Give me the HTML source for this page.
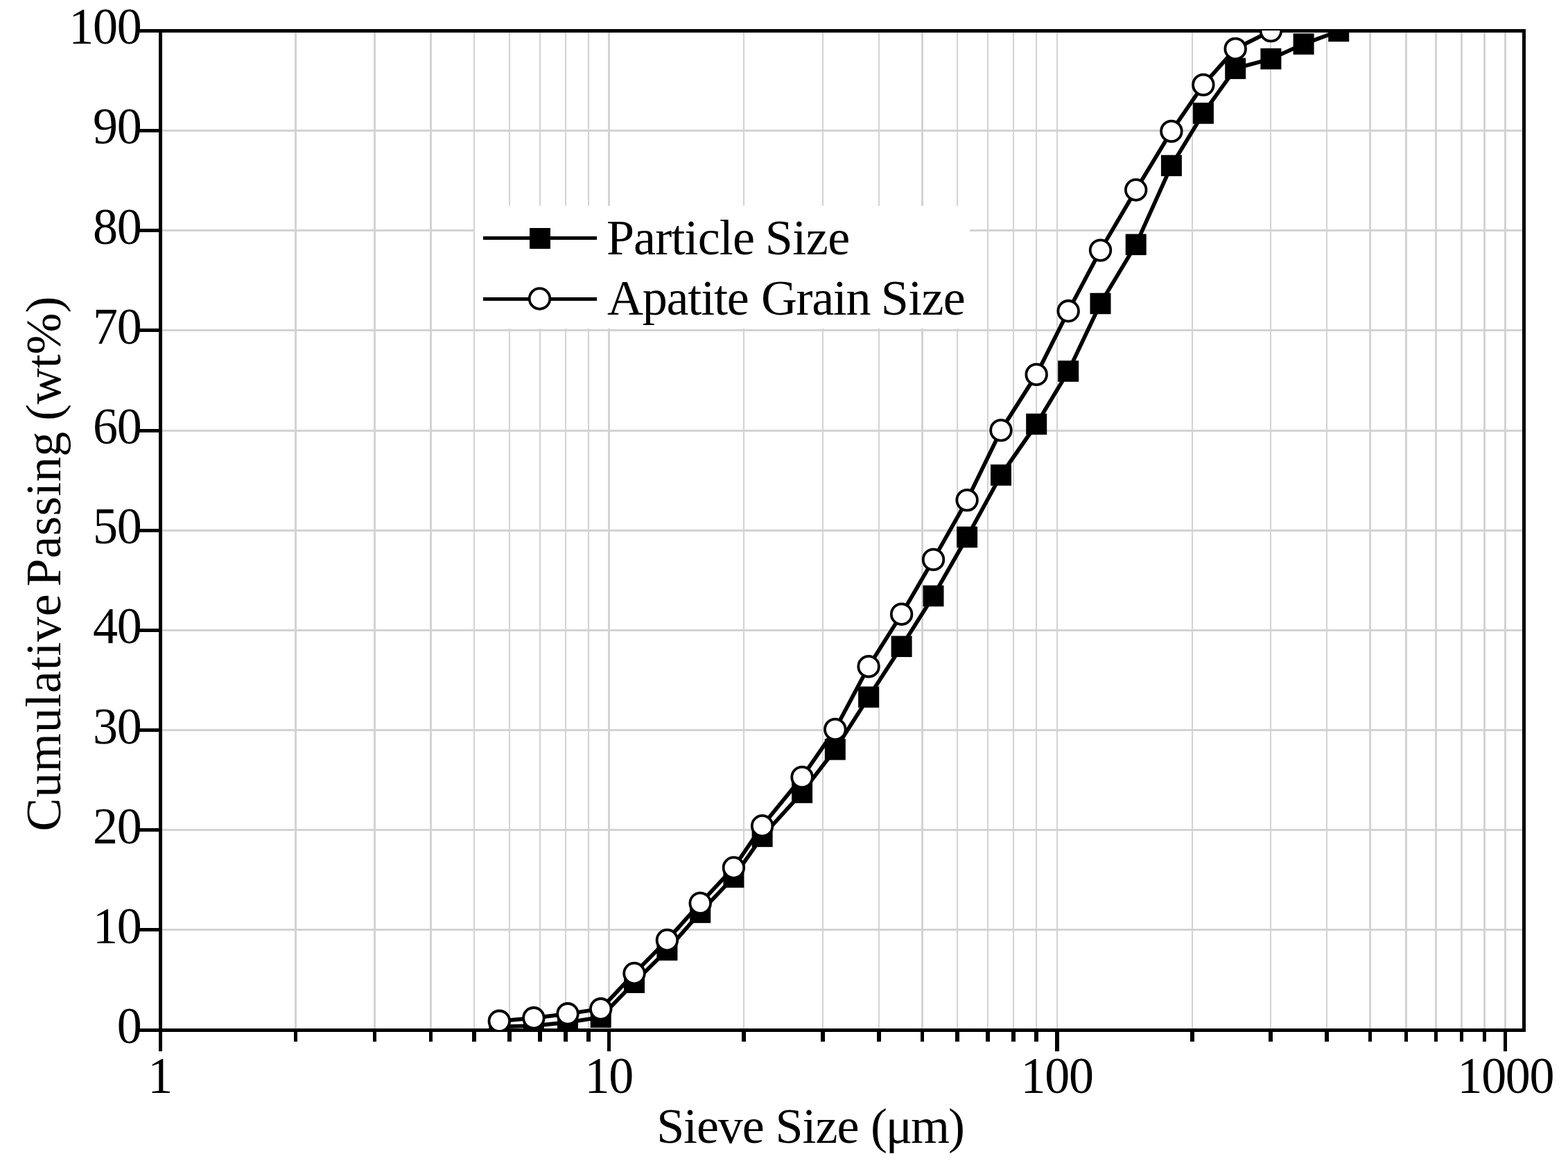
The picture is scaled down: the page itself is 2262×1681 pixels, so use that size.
<!DOCTYPE html>
<html lang="en"><head><meta charset="utf-8"><title>Cumulative Passing vs Sieve Size</title>
<style>html,body{margin:0;padding:0;background:#fff}svg{display:block}text{font-family:"Liberation Serif","DejaVu Serif",serif;fill:#000}</style></head><body>
<svg width="2262" height="1681" viewBox="0 0 2262 1681">
<rect width="2262" height="1681" fill="#fff"/>
<g fill="#d3d3d3" shape-rendering="crispEdges">
<rect x="425" y="47" width="3" height="1437"/>
<rect x="539" y="47" width="3" height="1437"/>
<rect x="620" y="47" width="3" height="1437"/>
<rect x="683" y="47" width="2" height="1437"/>
<rect x="734" y="47" width="2" height="1437"/>
<rect x="778" y="47" width="2" height="1437"/>
<rect x="815" y="47" width="2" height="1437"/>
<rect x="848" y="47" width="2" height="1437"/>
<rect x="877" y="47" width="3" height="1437"/>
<rect x="1072" y="47" width="2" height="1437"/>
<rect x="1186" y="47" width="2" height="1437"/>
<rect x="1267" y="47" width="2" height="1437"/>
<rect x="1329" y="47" width="3" height="1437"/>
<rect x="1380" y="47" width="2" height="1437"/>
<rect x="1424" y="47" width="2" height="1437"/>
<rect x="1461" y="47" width="2" height="1437"/>
<rect x="1494" y="47" width="2" height="1437"/>
<rect x="1524" y="47" width="2" height="1437"/>
<rect x="1719" y="47" width="2" height="1437"/>
<rect x="1832" y="47" width="2" height="1437"/>
<rect x="1913" y="47" width="2" height="1437"/>
<rect x="1975" y="47" width="3" height="1437"/>
<rect x="2027" y="47" width="3" height="1437"/>
<rect x="2070" y="47" width="3" height="1437"/>
<rect x="2107" y="47" width="3" height="1437"/>
<rect x="2140" y="47" width="3" height="1437"/>
<rect x="2170" y="47" width="3" height="1437"/>
<rect x="234" y="1340" width="1962" height="3"/>
<rect x="234" y="1196" width="1962" height="3"/>
<rect x="234" y="1052" width="1962" height="3"/>
<rect x="234" y="908" width="1962" height="3"/>
<rect x="234" y="764" width="1962" height="3"/>
<rect x="234" y="620" width="1962" height="3"/>
<rect x="234" y="475" width="1962" height="3"/>
<rect x="234" y="331" width="1962" height="3"/>
<rect x="234" y="187" width="1962" height="3"/>
</g>
<rect x="685" y="297" width="714" height="177" fill="#fff" shape-rendering="crispEdges"/>
<g stroke="#000" stroke-width="5" fill="none" shape-rendering="crispEdges">
<rect x="231.5" y="44.5" width="1967.0" height="1442.0"/>
<line x1="201" y1="1486.5" x2="231.5" y2="1486.5"/>
<line x1="201" y1="1341.5" x2="231.5" y2="1341.5"/>
<line x1="201" y1="1197.5" x2="231.5" y2="1197.5"/>
<line x1="201" y1="1053.5" x2="231.5" y2="1053.5"/>
<line x1="201" y1="909.5" x2="231.5" y2="909.5"/>
<line x1="201" y1="765.5" x2="231.5" y2="765.5"/>
<line x1="201" y1="621.5" x2="231.5" y2="621.5"/>
<line x1="201" y1="476.5" x2="231.5" y2="476.5"/>
<line x1="201" y1="332.5" x2="231.5" y2="332.5"/>
<line x1="201" y1="188.5" x2="231.5" y2="188.5"/>
<line x1="201" y1="44.5" x2="231.5" y2="44.5"/>
</g>
<g fill="#000" shape-rendering="crispEdges">
<rect x="229" y="1486" width="5" height="31"/>
<rect x="424" y="1486" width="5" height="17"/>
<rect x="538" y="1486" width="5" height="17"/>
<rect x="619" y="1486" width="5" height="17"/>
<rect x="681" y="1486" width="6" height="17"/>
<rect x="732" y="1486" width="6" height="17"/>
<rect x="776" y="1486" width="6" height="17"/>
<rect x="813" y="1486" width="6" height="17"/>
<rect x="846" y="1486" width="6" height="17"/>
<rect x="876" y="1486" width="5" height="31"/>
<rect x="1070" y="1486" width="6" height="17"/>
<rect x="1184" y="1486" width="6" height="17"/>
<rect x="1265" y="1486" width="6" height="17"/>
<rect x="1328" y="1486" width="5" height="17"/>
<rect x="1378" y="1486" width="6" height="17"/>
<rect x="1422" y="1486" width="6" height="17"/>
<rect x="1459" y="1486" width="6" height="17"/>
<rect x="1492" y="1486" width="6" height="17"/>
<rect x="1522" y="1486" width="6" height="31"/>
<rect x="1717" y="1486" width="6" height="17"/>
<rect x="1830" y="1486" width="6" height="17"/>
<rect x="1911" y="1486" width="6" height="17"/>
<rect x="1974" y="1486" width="5" height="17"/>
<rect x="2026" y="1486" width="5" height="17"/>
<rect x="2069" y="1486" width="5" height="17"/>
<rect x="2106" y="1486" width="5" height="17"/>
<rect x="2139" y="1486" width="5" height="17"/>
<rect x="2169" y="1486" width="5" height="31"/>
</g>
<clipPath id="c"><rect x="231.5" y="44" width="1967.0" height="1443"/></clipPath>
<g clip-path="url(#c)">
<polyline points="720.3,1481.3 769.9,1480.1 819.0,1475.1 866.7,1467.7 915.0,1417.7 962.4,1370.8 1010.2,1316.6 1058.4,1265.6 1099.6,1206.9 1157.1,1143.6 1204.8,1081.4 1253.1,1005.8 1300.6,932.8 1346.5,859.9 1395.1,775.0 1444.0,685.5 1495.2,612.0 1541.2,535.6 1587.5,438.0 1638.7,352.9 1689.9,238.9 1735.9,163.4 1782.2,98.8 1833.4,84.9 1880.6,63.5 1931.2,44.9" fill="none" stroke="#000" stroke-width="5.7" stroke-linejoin="round"/>
<rect x="705.3" y="1466.05" width="30" height="30.5" fill="#000"/>
<rect x="754.9" y="1464.85" width="30" height="30.5" fill="#000"/>
<rect x="804.0" y="1459.85" width="30" height="30.5" fill="#000"/>
<rect x="851.7" y="1452.45" width="30" height="30.5" fill="#000"/>
<rect x="900.0" y="1402.45" width="30" height="30.5" fill="#000"/>
<rect x="947.4" y="1355.55" width="30" height="30.5" fill="#000"/>
<rect x="995.2" y="1301.35" width="30" height="30.5" fill="#000"/>
<rect x="1043.4" y="1250.35" width="30" height="30.5" fill="#000"/>
<rect x="1084.6" y="1191.65" width="30" height="30.5" fill="#000"/>
<rect x="1142.1" y="1128.35" width="30" height="30.5" fill="#000"/>
<rect x="1189.8" y="1066.15" width="30" height="30.5" fill="#000"/>
<rect x="1238.1" y="990.55" width="30" height="30.5" fill="#000"/>
<rect x="1285.6" y="917.55" width="30" height="30.5" fill="#000"/>
<rect x="1331.5" y="844.65" width="30" height="30.5" fill="#000"/>
<rect x="1380.1" y="759.75" width="30" height="30.5" fill="#000"/>
<rect x="1429.0" y="670.25" width="30" height="30.5" fill="#000"/>
<rect x="1480.2" y="596.75" width="30" height="30.5" fill="#000"/>
<rect x="1526.2" y="520.35" width="30" height="30.5" fill="#000"/>
<rect x="1572.5" y="422.75" width="30" height="30.5" fill="#000"/>
<rect x="1623.7" y="337.65" width="30" height="30.5" fill="#000"/>
<rect x="1674.9" y="223.70" width="30" height="30.5" fill="#000"/>
<rect x="1720.9" y="148.20" width="30" height="30.5" fill="#000"/>
<rect x="1767.2" y="83.59" width="30" height="30.5" fill="#000"/>
<rect x="1818.4" y="69.65" width="30" height="30.5" fill="#000"/>
<rect x="1865.6" y="48.25" width="30" height="30.5" fill="#000"/>
<rect x="1916.2" y="29.65" width="30" height="30.5" fill="#000"/>
<polyline points="720.3,1473.3 769.9,1468.8 819.0,1462.8 866.7,1455.8 915.0,1404.5 962.4,1356.5 1010.2,1303.2 1058.4,1252.0 1099.6,1191.7 1157.1,1121.4 1204.8,1052.4 1253.1,961.7 1300.6,886.2 1346.5,807.4 1395.1,721.6 1444.0,620.9 1495.2,540.4 1541.2,448.8 1587.5,361.1 1638.7,274.0 1689.9,189.4 1735.9,122.4 1782.2,70.4 1833.4,44.6" fill="none" stroke="#000" stroke-width="5.7" stroke-linejoin="round"/>
<circle cx="720.3" cy="1473.3" r="14.8" fill="#fff" stroke="#000" stroke-width="3.8"/>
<circle cx="769.9" cy="1468.8" r="14.8" fill="#fff" stroke="#000" stroke-width="3.8"/>
<circle cx="819.0" cy="1462.8" r="14.8" fill="#fff" stroke="#000" stroke-width="3.8"/>
<circle cx="866.7" cy="1455.8" r="14.8" fill="#fff" stroke="#000" stroke-width="3.8"/>
<circle cx="915.0" cy="1404.5" r="14.8" fill="#fff" stroke="#000" stroke-width="3.8"/>
<circle cx="962.4" cy="1356.5" r="14.8" fill="#fff" stroke="#000" stroke-width="3.8"/>
<circle cx="1010.2" cy="1303.2" r="14.8" fill="#fff" stroke="#000" stroke-width="3.8"/>
<circle cx="1058.4" cy="1252.0" r="14.8" fill="#fff" stroke="#000" stroke-width="3.8"/>
<circle cx="1099.6" cy="1191.7" r="14.8" fill="#fff" stroke="#000" stroke-width="3.8"/>
<circle cx="1157.1" cy="1121.4" r="14.8" fill="#fff" stroke="#000" stroke-width="3.8"/>
<circle cx="1204.8" cy="1052.4" r="14.8" fill="#fff" stroke="#000" stroke-width="3.8"/>
<circle cx="1253.1" cy="961.7" r="14.8" fill="#fff" stroke="#000" stroke-width="3.8"/>
<circle cx="1300.6" cy="886.2" r="14.8" fill="#fff" stroke="#000" stroke-width="3.8"/>
<circle cx="1346.5" cy="807.4" r="14.8" fill="#fff" stroke="#000" stroke-width="3.8"/>
<circle cx="1395.1" cy="721.6" r="14.8" fill="#fff" stroke="#000" stroke-width="3.8"/>
<circle cx="1444.0" cy="620.9" r="14.8" fill="#fff" stroke="#000" stroke-width="3.8"/>
<circle cx="1495.2" cy="540.4" r="14.8" fill="#fff" stroke="#000" stroke-width="3.8"/>
<circle cx="1541.2" cy="448.8" r="14.8" fill="#fff" stroke="#000" stroke-width="3.8"/>
<circle cx="1587.5" cy="361.1" r="14.8" fill="#fff" stroke="#000" stroke-width="3.8"/>
<circle cx="1638.7" cy="274.0" r="14.8" fill="#fff" stroke="#000" stroke-width="3.8"/>
<circle cx="1689.9" cy="189.4" r="14.8" fill="#fff" stroke="#000" stroke-width="3.8"/>
<circle cx="1735.9" cy="122.4" r="14.8" fill="#fff" stroke="#000" stroke-width="3.8"/>
<circle cx="1782.2" cy="70.4" r="14.8" fill="#fff" stroke="#000" stroke-width="3.8"/>
<circle cx="1833.4" cy="44.6" r="14.8" fill="#fff" stroke="#000" stroke-width="3.8"/>
</g>
<g stroke="#000" stroke-width="5" fill="none" shape-rendering="crispEdges">
<line x1="697" y1="343.5" x2="861" y2="343.5"/>
<line x1="697" y1="431.5" x2="861" y2="431.5"/>
</g>
<rect x="764" y="329" width="30" height="30" fill="#000" shape-rendering="crispEdges"/>
<circle cx="778.5" cy="431" r="14.8" fill="#fff" stroke="#000" stroke-width="3.8"/>
<text id="l1" y="367.0" font-size="72"><tspan x="874.90" style="letter-spacing:-0.843px">Particle</tspan> <tspan x="1103.80" style="letter-spacing:-0.533px">Size</tspan></text>
<text id="l2" y="454.3" font-size="72"><tspan x="875.90" style="letter-spacing:-1.167px">Apatite</tspan> <tspan x="1097.90" style="letter-spacing:-1.325px">Grain</tspan> <tspan x="1270.80" style="letter-spacing:-0.667px">Size</tspan></text>
<text id="xt" y="1649.1" font-size="72"><tspan x="947.20" style="letter-spacing:-1.125px">Sieve</tspan> <tspan x="1118.50" style="letter-spacing:-1.033px">Size</tspan> <tspan x="1256.00" style="letter-spacing:-2.233px">(μm)</tspan></text>
<text id="yt" transform="translate(87.0,0) rotate(-90)" y="0" font-size="72"><tspan x="-1199.50" style="letter-spacing:0.700px">Cumulative</tspan> <tspan x="-846.20" style="letter-spacing:0.567px">Passing</tspan> <tspan x="-607.00" style="letter-spacing:-0.125px">(wt%)</tspan></text>
<text id="y0" transform="translate(168.74,1505.25) scale(0.973,1)" font-size="74" style="letter-spacing:-1.34px">0</text>
<text id="y10" transform="translate(134.05,1361.05) scale(0.973,1)" font-size="74" style="letter-spacing:-1.34px">10</text>
<text id="y20" transform="translate(134.05,1216.85) scale(0.973,1)" font-size="74" style="letter-spacing:-1.34px">20</text>
<text id="y30" transform="translate(134.05,1072.65) scale(0.973,1)" font-size="74" style="letter-spacing:-1.34px">30</text>
<text id="y40" transform="translate(134.05,928.45) scale(0.973,1)" font-size="74" style="letter-spacing:-1.34px">40</text>
<text id="y50" transform="translate(134.05,784.25) scale(0.973,1)" font-size="74" style="letter-spacing:-1.34px">50</text>
<text id="y60" transform="translate(134.05,640.05) scale(0.973,1)" font-size="74" style="letter-spacing:-1.34px">60</text>
<text id="y70" transform="translate(134.05,495.85) scale(0.973,1)" font-size="74" style="letter-spacing:-1.34px">70</text>
<text id="y80" transform="translate(134.05,351.65) scale(0.973,1)" font-size="74" style="letter-spacing:-1.34px">80</text>
<text id="y90" transform="translate(134.05,207.45) scale(0.973,1)" font-size="74" style="letter-spacing:-1.34px">90</text>
<text id="y100" transform="translate(99.35,63.25) scale(0.973,1)" font-size="74" style="letter-spacing:-1.34px">100</text>
<text id="x1" transform="translate(213.30,1577.00) scale(0.973,1)" font-size="74" style="letter-spacing:-1.34px">1</text>
<text id="x10" transform="translate(843.56,1577.00) scale(0.973,1)" font-size="74" style="letter-spacing:-1.34px">10</text>
<text id="x100" transform="translate(1472.56,1577.00) scale(0.973,1)" font-size="74" style="letter-spacing:-1.34px">100</text>
<text id="x1000" transform="translate(2102.46,1577.00) scale(0.973,1)" font-size="74" style="letter-spacing:-1.34px">1000</text>
</svg></body></html>
